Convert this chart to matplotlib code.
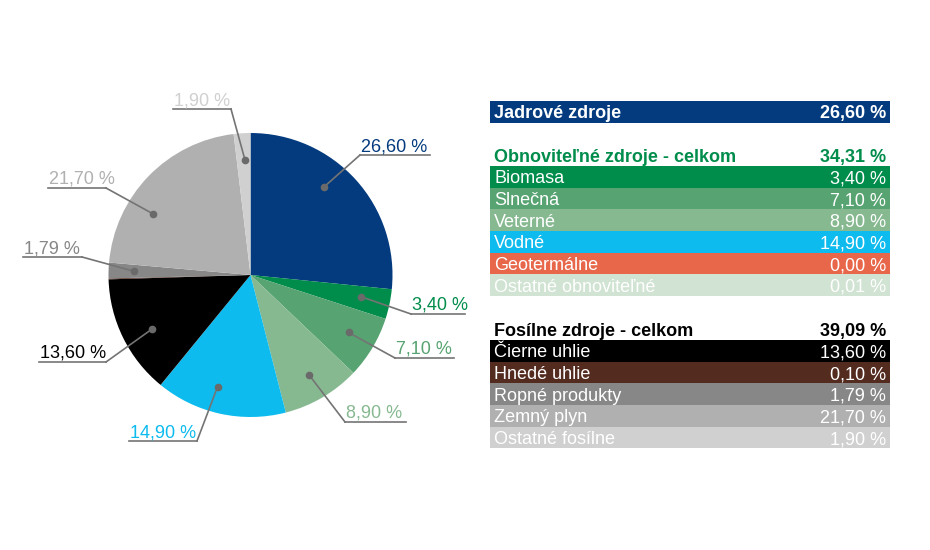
import numpy as np
import matplotlib.pyplot as plt
from matplotlib.patches import Rectangle

plt.rcParams['font.family'] = ['Liberation Sans', 'DejaVu Sans']

# data
names = ['Jadrové zdroje', 'Biomasa', 'Slnečná', 'Veterné', 'Vodné', 'Geotermálne',
         'Ostatné obnoviteľné', 'Čierne uhlie', 'Hnedé uhlie', 'Ropné produkty',
         'Zemný plyn', 'Ostatné fosílne']
values = [26.60, 3.40, 7.10, 8.90, 14.90, 0.00, 0.01, 13.60, 0.10, 1.79, 21.70, 1.90]
colors = ['#033b7e', '#008c4b', '#57a371', '#87b991', '#0dbbee', '#e8674a',
          '#d1e3d2', '#000000', '#532b1f', '#878787', '#b0b0b0', '#d0d0d0']
renewable = [1, 2, 3, 4, 5, 6]
fossil = [7, 8, 9, 10, 11]


def fmt(v):
    return f'{v:.2f}'.replace('.', ',') + ' %'


H = 550
def Y(y):
    return H - y


fig = plt.figure(figsize=(9.3, 5.5), dpi=100)
ax = fig.add_axes([0, 0, 1, 1])

cx, cy, R = 250.5, 275, 142
wedges, _ = ax.pie(values, colors=colors, startangle=90, counterclock=False,
                   center=(cx, Y(cy)), radius=R, frame=True,
                   wedgeprops=dict(linewidth=0))

# pie labels: index -> (elbow x, elbow y, line left x, line right x, angle tweak, r frac)
label_layout = {
    0: (360, 155, 360, 430, 8, 0.81),
    1: (411, 314, 411, 465, 0.8, 0.79),
    2: (395, 358, 395, 454, 0.4, 0.80),
    3: (345, 422, 345, 406, 0, 0.82),
    4: (197, 441, 129, 197, -4, 0.82),
    7: (106, 362, 39, 106, 2.5, 0.79),
    9: (82, 257, 23, 82, 0, 0.82),
    10: (106, 188, 48, 106, 12, 0.81),
    11: (231, 109, 173, 231, -0.7, 0.81),
}
line_col = '#747474'
for i, (ex, ey, lx0, lx1, tweak, rf) in label_layout.items():
    w = wedges[i]
    mid = np.deg2rad((w.theta1 + w.theta2) / 2 + tweak)
    dx = cx + rf * R * np.cos(mid)
    dy = Y(cy) + rf * R * np.sin(mid)
    ax.plot([dx, ex], [dy, Y(ey)], color=line_col, lw=1.2, zorder=3)
    ax.plot([lx0, lx1], [Y(ey), Y(ey)], color=line_col, lw=1.2, zorder=3)
    ax.plot(dx, dy, 'o', color='#6a6a6a', ms=4.5, zorder=4)
    ax.text(lx0 + 1, Y(ey - 4), fmt(values[i]), color=colors[i], fontsize=13,
            ha='left', va='baseline')

# table on the right
x0, x1 = 490, 890
row_h = 21.7


def row(top, name, val, bg, fg, bold=False):
    if bg is not None:
        ax.add_patch(Rectangle((x0, Y(top + row_h)), x1 - x0, row_h,
                               facecolor=bg, edgecolor='none'))
    ym = Y(top + row_h / 2)
    w = 'bold' if bold else 'normal'
    ax.text(x0 + 4, ym, name, color=fg, fontsize=13, fontweight=w,
            ha='left', va='center_baseline')
    ax.text(x1 - 4, ym, fmt(val), color=fg, fontsize=13, fontweight=w,
            ha='right', va='center_baseline')


row(101, names[0], values[0], colors[0], 'white', bold=True)

row(145, 'Obnoviteľné zdroje - celkom', sum(values[i] for i in renewable),
    None, '#008c4b', bold=True)
top = 166
for i in renewable:
    row(top, names[i], values[i], colors[i], 'white')
    top += row_h

row(319, 'Fosílne zdroje - celkom', sum(values[i] for i in fossil),
    None, '#000000', bold=True)
top = 340
for i in fossil:
    row(top, names[i], values[i], colors[i], 'white')
    top += row_h

ax.set_xlim(0, 930)
ax.set_ylim(0, H)
ax.axis('off')

fig.savefig('out.png', dpi=100)
